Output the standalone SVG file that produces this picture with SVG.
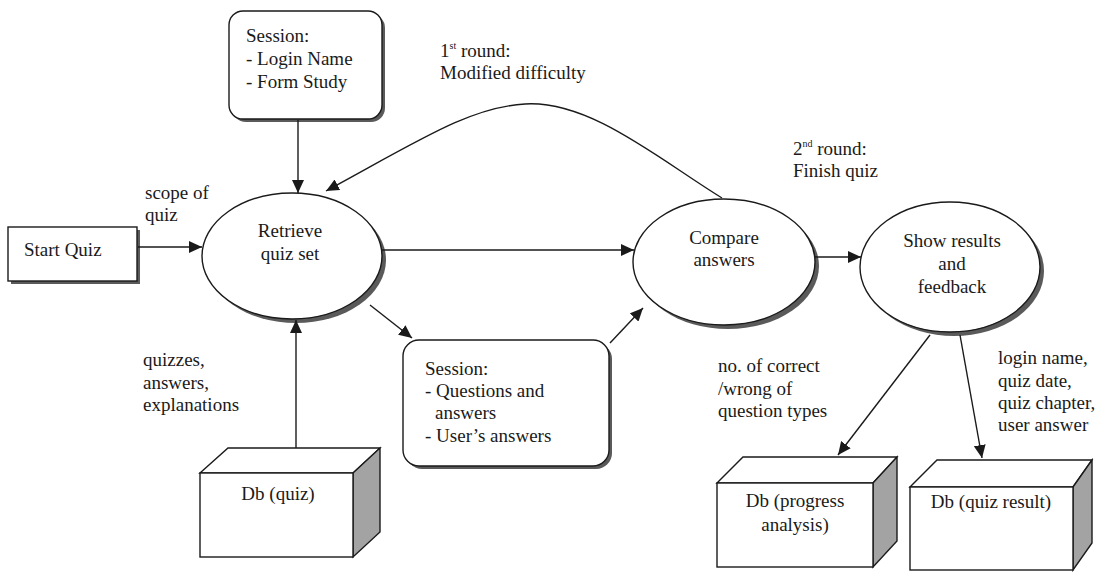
<svg xmlns="http://www.w3.org/2000/svg" width="1104" height="572" viewBox="0 0 1104 572">
  <style>
    text { font-family: "Liberation Serif", "DejaVu Serif", serif; font-size: 19px; fill: #1a1a1a; }
    .mid { text-anchor: middle; }
    .sup { font-size: 10px; }
    .shape { fill: #ffffff; stroke: #1a1a1a; stroke-width: 1.4; }
    .shadow { fill: #5a5a5a; stroke: none; }
    .side { fill: #a3a3a3; stroke: #1a1a1a; stroke-width: 1.4; }
    .flow { fill: none; stroke: #1a1a1a; stroke-width: 1.4; marker-end: url(#arrow); }
  </style>
  <defs>
    <marker id="arrow" markerUnits="userSpaceOnUse" markerWidth="14" markerHeight="12" refX="13" refY="6" orient="auto">
      <path d="M0,0 L13,6 L0,12 z" fill="#1a1a1a"/>
    </marker>
  </defs>
  <rect width="1104" height="572" fill="#ffffff"/>

  <!-- session data read at login -->
  <g id="session-login">
    <rect class="shadow" x="232" y="14" width="153" height="108" rx="14"/>
    <rect class="shape" x="229" y="11" width="153" height="108" rx="14"/>
    <text x="246" y="42">Session:</text>
    <text x="246" y="65">- Login Name</text>
    <text x="246" y="88">- Form Study</text>
  </g>

  <g id="start-quiz">
    <rect class="shadow" x="11" y="230" width="129" height="54"/>
    <rect class="shape" x="8" y="227" width="129" height="54"/>
    <text x="24" y="256">Start Quiz</text>
  </g>

  <g id="retrieve-quiz-set">
    <ellipse class="shadow" cx="296" cy="260" rx="90" ry="63"/>
    <ellipse class="shape" cx="292" cy="256" rx="90" ry="63"/>
    <text class="mid" x="290" y="237">Retrieve</text>
    <text class="mid" x="290" y="260">quiz set</text>
  </g>

  <g id="compare-answers">
    <ellipse class="shadow" cx="728" cy="266" rx="91" ry="63"/>
    <ellipse class="shape" cx="724" cy="262" rx="91" ry="63"/>
    <text class="mid" x="724" y="244">Compare</text>
    <text class="mid" x="724" y="266">answers</text>
  </g>

  <g id="show-results">
    <ellipse class="shadow" cx="954" cy="271" rx="90" ry="65"/>
    <ellipse class="shape" cx="950" cy="267" rx="90" ry="65"/>
    <text class="mid" x="952" y="247">Show results</text>
    <text class="mid" x="952" y="270">and</text>
    <text class="mid" x="952" y="293">feedback</text>
  </g>

  <!-- session data kept during the quiz -->
  <g id="session-quiz">
    <rect class="shadow" x="406" y="343" width="206" height="126" rx="16"/>
    <rect class="shape" x="403" y="340" width="206" height="126" rx="16"/>
    <text x="425" y="375">Session:</text>
    <text x="425" y="397">- Questions and</text>
    <text x="435" y="419">answers</text>
    <text x="425" y="442">- User’s answers</text>
  </g>

  <!-- data stores drawn as boxes -->
  <g id="db-quiz">
    <polygon class="shape" points="200,473 228,448 380,448 353,473"/>
    <polygon class="side" points="353,473 380,448 380,532 353,557"/>
    <rect class="shape" x="200" y="473" width="153" height="84"/>
    <text class="mid" x="278" y="500">Db (quiz)</text>
  </g>

  <g id="db-progress">
    <polygon class="shape" points="717,483 743,457 897,457 873,483"/>
    <polygon class="side" points="873,483 897,457 897,541 873,567"/>
    <rect class="shape" x="717" y="483" width="156" height="84"/>
    <text class="mid" x="795" y="507">Db (progress</text>
    <text class="mid" x="795" y="531">analysis)</text>
  </g>

  <g id="db-quiz-result">
    <polygon class="shape" points="910,487 937,460 1092,460 1073,487"/>
    <polygon class="side" points="1073,487 1092,460 1092,543 1073,570"/>
    <rect class="shape" x="910" y="487" width="163" height="83"/>
    <text class="mid" x="991" y="508">Db (quiz result)</text>
  </g>

  <g id="connectors">
    <line class="flow" x1="298" y1="120" x2="298" y2="193"/>
    <line class="flow" x1="138" y1="247" x2="202" y2="247"/>
    <line class="flow" x1="296" y1="448" x2="296" y2="320"/>
    <line class="flow" x1="382" y1="250" x2="634" y2="250"/>
    <line class="flow" x1="370" y1="305" x2="412" y2="338"/>
    <line class="flow" x1="610" y1="343" x2="643" y2="308"/>
    <line class="flow" x1="815" y1="257" x2="861" y2="257"/>
    <path class="flow" d="M722,198 C660,160 590,100 525,104 C470,107 420,140 326,191"/>
    <line class="flow" x1="930" y1="335" x2="838" y2="455"/>
    <line class="flow" x1="960" y1="335" x2="982" y2="458"/>
  </g>

  <g id="labels">
    <text x="145" y="199">scope of</text>
    <text x="145" y="221">quiz</text>
    <text x="440" y="57">1<tspan class="sup" dy="-8">st</tspan><tspan dy="8"> round:</tspan></text>
    <text x="440" y="79">Modified difficulty</text>
    <text x="793" y="155">2<tspan class="sup" dy="-8">nd</tspan><tspan dy="8"> round:</tspan></text>
    <text x="793" y="177">Finish quiz</text>
    <text x="143" y="366">quizzes,</text>
    <text x="143" y="389">answers,</text>
    <text x="143" y="411">explanations</text>
    <text x="718" y="372">no. of correct</text>
    <text x="718" y="395">/wrong of</text>
    <text x="718" y="417">question types</text>
    <text x="998" y="364">login name,</text>
    <text x="998" y="387">quiz date,</text>
    <text x="998" y="409">quiz chapter,</text>
    <text x="998" y="431">user answer</text>
  </g>
</svg>
